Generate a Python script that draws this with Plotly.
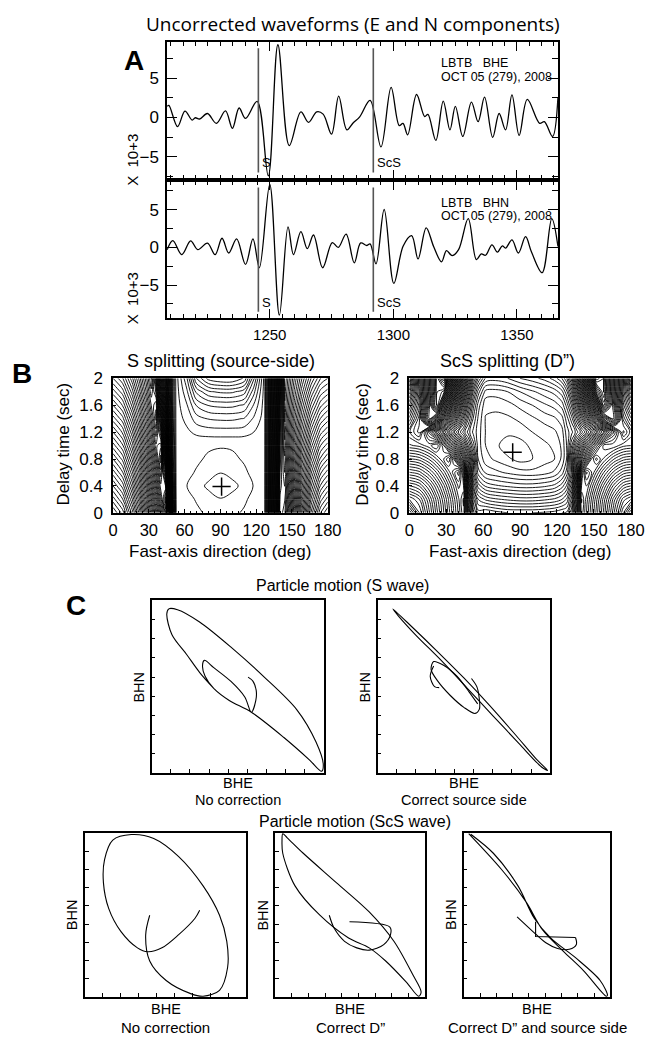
import plotly.graph_objects as go

W, H = 664, 1047
OFF = 8  # the page body margin shifts the figure by 8 px; targets are given in window pixels

# ---------------- Panel A data: waveforms (time s, amplitude x10^3) ----------------
E_time = [1208.5, 1209.2, 1212.7, 1215.7, 1218.6, 1219.9, 1221.6, 1224.8, 1228.4, 1232.1,
          1234.9, 1237.6, 1240.2, 1244.9, 1249.4, 1253.3, 1257.9, 1262.6, 1265.7, 1269.0,
          1271.6, 1275.0, 1277.9, 1281.2, 1283.8, 1286.4, 1290.6, 1295.0, 1299.1, 1302.4,
          1303.9, 1305.8, 1309.4, 1312.7, 1314.0, 1317.2, 1320.2, 1322.9, 1325.1, 1328.1,
          1331.6, 1334.3, 1336.9, 1340.2, 1342.8, 1345.4, 1348.0, 1350.9, 1354.2, 1359.2,
          1361.1, 1364.4, 1366.6]
E_amp = [1.42, 1.54, -1.17, 0.8, -0.33, -0.04, -0.2, 0.5, -0.75, 0.83,
         -1.38, 1.2, -0.12, 2.04, -7.42, 9.25, -3.58, 0.71, -0.62, 0.71,
         0.42, -2.12, 2.71, -1.58, -0.67, 0.08, 2.17, -3.75, 3.83, -1.04,
         -0.75, -2.21, 2.92, 0.1, 0.4, -2.92, 2.08, -1.58, 1.42, -2.42,
         1.96, -0.54, 2.58, -2.54, 0.5, -1.58, 2.88, -2.29, 2.29, -0.75,
         -0.54, -2.42, 2.58]

N_time = [1208.5, 1210.8, 1214.4, 1218.0, 1220.9, 1224.8, 1227.9, 1230.7, 1233.4, 1236.6,
          1240.2, 1243.2, 1245.8, 1250.0, 1253.9, 1257.4, 1259.6, 1262.6, 1265.2, 1267.7,
          1271.4, 1275.3, 1277.7, 1280.9, 1284.2, 1286.8, 1289.3, 1290.6, 1293.0, 1296.3,
          1300.2, 1304.0, 1307.4, 1310.0, 1313.3, 1316.3, 1319.5, 1321.5, 1323.8, 1326.4,
          1330.3, 1333.6, 1335.6, 1337.3, 1339.9, 1342.1, 1344.1, 1345.4, 1348.0, 1350.6,
          1353.5, 1355.9, 1360.2, 1364.1, 1366.6]
N_amp = [-0.3, 0.91, -0.96, 0.87, -0.3, 0.57, -0.96, 1.22, -0.74, 1.13,
         -2.26, 1.13, -2.7, 8.39, -9.0, 2.74, -0.96, 2.09, -0.17, 1.65,
         -2.7, 0.65, 0.0, 1.78, -2.04, 0.6, 0.26, 0.48, -2.17, 5.04,
         -4.78, 0.2, 1.57, -1.52, 2.61, 0.13, -1.91, -0.43, -1.09, -0.3,
         3.83, -1.61, -0.87, -1.04, 0.35, -0.61, 0.22, -0.09, 1.0, -0.74,
         1.43, -0.61, -3.35, 3.83, 0.13]

S_pick = 1245.4
ScS_pick = 1291.9

# ---------------- Panel B data: splitting misfit grids ----------------
PHI_S = [0, 8, 16, 22, 28, 32, 36, 40, 44, 47, 50, 53, 62, 70, 80, 90, 100, 110, 118, 127,
         130, 133, 136.5, 140, 144, 148, 152, 158, 166, 174, 180]
PHI_ScS = [0, 8, 16, 22, 28, 32, 36, 40, 44, 48, 52, 56, 62, 70, 80, 90, 100, 110, 118, 124,
           128, 132, 136, 140, 144, 148, 152, 158, 166, 174, 180]
DT = [0.0, 0.2, 0.4, 0.6, 0.8, 1.0, 1.2, 1.4, 1.6, 1.8, 2.0]

Z_S = [
    [5, 7.4, 12.4, 17.3, 23.1, 27.4, 32.0, 37.0, 42.3, 33.2, 12.7, 2.5, 2.32, 2.14, 1.87, 1.6, 1.83, 2.1, 2.34, 2.5, 9.0, 18.5, 29.5, 41.8, 40.2, 34.2, 28.5, 21.0, 12.8, 7.0, 5],
    [7.5, 9.9, 14.9, 19.7, 25.5, 29.8, 34.4, 39.4, 44.7, 27.8, 10.9, 2.5, 2.22, 1.94, 1.52, 1.1, 1.45, 1.87, 2.25, 2.5, 8.9, 18.2, 29.1, 41.2, 41.1, 35.4, 30.1, 22.8, 14.9, 9.4, 7.5],
    [10, 12.4, 17.3, 22.2, 27.9, 32.2, 36.8, 41.7, 41.0, 23.9, 9.6, 2.5, 2.0, 1.5, 0.75, 0.0, 0.63, 1.38, 2.05, 2.5, 8.8, 18.0, 28.7, 40.6, 42.1, 36.6, 31.5, 24.6, 17.1, 11.8, 10],
    [12.5, 14.9, 19.7, 24.4, 30.1, 34.3, 38.8, 43.6, 36.8, 21.5, 8.8, 2.5, 2.21, 1.92, 1.49, 1.05, 1.41, 1.85, 2.24, 2.5, 8.7, 17.8, 28.3, 40.0, 43.0, 37.8, 32.9, 26.3, 19.2, 14.2, 12.5],
    [15, 17.3, 22.1, 26.7, 32.3, 36.4, 40.8, 45.6, 33.1, 19.4, 8.1, 2.5, 2.32, 2.14, 1.87, 1.6, 1.83, 2.1, 2.34, 2.5, 8.6, 17.6, 27.9, 39.5, 43.8, 38.9, 34.3, 28.1, 21.4, 16.7, 15],
    [17.5, 19.8, 24.4, 29.0, 34.4, 38.5, 42.8, 43.6, 30.0, 17.8, 7.6, 2.5, 2.38, 2.2, 2.12, 2.1, 2.1, 2.14, 2.3, 2.5, 8.5, 17.3, 27.6, 39.0, 44.7, 40.0, 35.7, 29.9, 23.5, 19.0, 17.5],
    [20, 22.2, 26.7, 31.2, 36.5, 40.3, 44.6, 40.1, 27.7, 16.5, 7.1, 2.5, 2.8, 3.25, 3.45, 3.5, 3.5, 3.4, 3.0, 2.5, 8.4, 17.1, 27.3, 38.5, 45.4, 41.1, 37.0, 31.6, 25.6, 21.4, 20],
    [22.5, 24.6, 29.0, 33.3, 38.4, 42.2, 46.2, 37.1, 25.7, 15.4, 6.8, 2.5, 3.31, 4.53, 5.07, 5.2, 5.2, 4.93, 3.85, 2.5, 8.3, 16.9, 26.9, 38.0, 46.2, 42.1, 38.3, 33.3, 27.7, 23.9, 22.5],
    [25, 27.1, 31.3, 35.4, 40.3, 44.0, 45.9, 34.5, 23.8, 14.4, 6.5, 2.5, 3.94, 6.1, 7.06, 7.3, 7.3, 6.82, 4.9, 2.5, 8.2, 16.7, 26.6, 37.4, 46.8, 43.1, 39.6, 34.9, 29.8, 26.3, 25],
    [27.5, 29.5, 33.5, 37.5, 42.2, 45.7, 42.7, 32.1, 22.3, 13.4, 6.1, 2.5, 4.81, 8.28, 9.82, 10.2, 10.2, 9.43, 6.35, 2.5, 8.2, 16.5, 26.2, 36.9, 47.4, 44.0, 40.8, 36.6, 31.9, 28.6, 27.5],
    [30, 31.9, 35.7, 39.4, 43.8, 47.1, 40.1, 30.1, 21.0, 12.6, 5.9, 2.5, 5.95, 11.1, 13.4, 14.0, 14.0, 12.85, 8.25, 2.5, 8.1, 16.3, 25.9, 36.5, 48.0, 44.9, 42.0, 38.2, 34.0, 31.0, 30],
]

Z_ScS = [
    [5, 9.9, 14.7, 18.4, 22.0, 24.5, 26.9, 29.3, 31.8, 23.5, 17.5, 14.5, 15, 14.5, 14, 14, 14, 14.2, 14.5, 15, 15.2, 18.0, 23.8, 31.7, 29.0, 26.3, 23.7, 19.7, 14.3, 9.0, 5],
    [10.0, 11.9, 15.9, 19.3, 22.7, 25.1, 27.5, 29.8, 32.2, 22.6, 15.5, 12, 10.8, 10.2, 9.8, 9.5, 9.5, 9.8, 10.2, 11, 12.2, 15.6, 22.6, 32.1, 29.5, 26.9, 24.3, 20.5, 15.6, 11.4, 10.0],
    [14.9, 16.0, 18.9, 21.7, 24.7, 26.9, 29.1, 31.3, 30.1, 19.7, 12.2, 8.5, 6.8, 6.2, 5.8, 5.5, 5.5, 5.8, 6.3, 7.5, 9.2, 12.8, 20.1, 30.1, 31.0, 28.6, 26.2, 22.8, 18.7, 15.8, 15.0],
    [19.9, 20.6, 22.8, 25.0, 27.6, 29.5, 31.5, 33.5, 28.2, 17.4, 9.4, 5.5, 3.8, 3.3, 2.8, 2.4, 2.3, 2.6, 3.2, 4.5, 6.5, 10.3, 17.9, 28.3, 33.3, 31.1, 28.9, 26.0, 22.7, 20.5, 20.0],
    [24.8, 25.4, 27.1, 28.9, 31.1, 32.8, 29.0, 24.5, 19.5, 14.5, 9.0, 4, 2.4, 1.8, 1.2, 0.6, 1.0, 1.6, 2.0, 3.2, 5.1, 11.0, 16.5, 21.5, 26.0, 30.0, 32.4, 29.8, 27.1, 25.4, 25.0],
    [29.8, 30.3, 31.6, 33.0, 29.0, 25.5, 22.0, 18.0, 14.0, 10.0, 6.5, 3.5, 2.0, 1.3, 0.3, 0.5, 1.3, 1.8, 2.2, 3.2, 5.1, 9.0, 13.0, 17.0, 21.0, 24.5, 27.5, 31.5, 31.7, 30.3, 30.0],
    [31.8, 34.4, 27.8, 23.2, 18.8, 16.1, 13.4, 10.9, 8.6, 6.5, 4.7, 3.5, 1.95, 1.5, 1.3, 1.5, 2.0, 2.4, 2.8, 3.6, 5.5, 6.7, 8.5, 10.5, 12.8, 15.3, 17.9, 22.0, 28.0, 34.3, 31.6],
    [28.3, 33.6, 43.5, 38.1, 30.5, 25.6, 21.0, 16.7, 12.7, 9.0, 5.9, 3.8, 1.9, 1.8, 1.8, 2.2, 2.8, 3.4, 3.8, 4.6, 6.5, 8.6, 11.8, 15.5, 19.6, 24.0, 28.7, 36.2, 41.4, 31.6, 28.2],
    [24.9, 31.5, 42.3, 50.8, 40.5, 34.0, 27.7, 21.9, 16.4, 11.5, 7.4, 4.5, 2.3, 2.2, 2.6, 3.3, 4.0, 4.8, 5.4, 6.4, 8.4, 11.3, 15.6, 20.6, 26.1, 32.1, 38.4, 48.4, 40.1, 29.3, 24.8],
    [21.4, 30.1, 41.6, 50.2, 48.6, 41.0, 33.7, 26.8, 20.5, 14.8, 9.9, 6.5, 3.6, 3.5, 4.0, 5.0, 5.8, 6.6, 7.4, 8.6, 10.8, 14.3, 19.3, 25.2, 31.8, 38.8, 46.3, 51.2, 39.3, 27.6, 21.4],
    [18, 29.7, 41.3, 50.0, 55.2, 47.0, 39.2, 31.9, 25.0, 18.9, 13.6, 10, 6.8, 6.5, 7.0, 8.0, 8.6, 9.4, 10.5, 12, 14, 17.8, 23.3, 29.7, 36.9, 44.6, 52.7, 51.0, 39, 27, 18],
]

BEST_S = (91, 0.39)
BEST_ScS = (84, 0.90)

# ---------------- Panel C data: particle motion (normalised to each box) ----------------
PM_S_raw_u = [.559, .587, .606, .604, .578, .54, .46, .36, .306, .295, .31, .36, .45, .578, .765, .916, .985, .995,
              .953, .841, .653, .465, .278, .15, .10, .088, .118, .203, .28, .36]
PM_S_raw_v = [.555, .532, .48, .42, .352, .44, .53, .61, .652, .62, .56, .49, .42, .352, .207, .075, .01, .05,
              .179, .367, .555, .724, .874, .945, .95, .92, .80, .686, .58, .49]

PM_S_corr_long_u = [.088, .2, .35, .5, .65, .8, .92, .985, .95, .82, .67, .52, .37, .22, .12, .088]
PM_S_corr_long_v = [.95, .845, .70, .55, .39, .22, .08, .015, .035, .17, .33, .49, .65, .80, .91, .95]
PM_S_corr_loop_u = [.544, .575, .588, .59, .565, .50, .42, .35, .31, .325, .38, .46, .53, .58]
PM_S_corr_loop_v = [.547, .50, .44, .37, .345, .38, .45, .53, .60, .645, .625, .56, .47, .40]
PM_S_corr_hook_u = [.325, .305, .33, .357]
PM_S_corr_hook_v = [.62, .56, .50, .494]

PM_ScS_raw_u = [.402, .377, .402, .504, .656, .733, .835, .885, .880, .835, .733, .580, .427, .288, .173, .122,
                .115, .148, .224, .326, .389, .478, .580, .682, .712]
PM_ScS_raw_v = [.498, .378, .219, .100, .020, .004, .040, .179, .339, .498, .677, .857, .966, .990, .956, .837,
                .697, .538, .398, .299, .275, .299, .378, .478, .528]

PM_ScS_D_ell_u = [.05, .045, .05, .132, .298, .49, .628, .738, .876, .959, .975, .917, .793, .628, .408, .187, .08, .05]
PM_ScS_D_ell_v = [.995, .95, .876, .677, .498, .359, .299, .219, .09, .004, .03, .139, .339, .518, .697, .876, .97, .995]
PM_ScS_D_hook_u = [.496, .766, .77, .725, .628, .545, .463, .394, .361]
PM_ScS_D_hook_v = [.458, .426, .378, .319, .285, .299, .339, .418, .498]

PM_ScS_DS_lines_u = [.034, .258, .426, .538, .678, .818, .972, .98, .930, .762, .594, .482, .370, .202, .048]
PM_ScS_DS_lines_v = [.996, .777, .578, .408, .279, .159, .004, .010, .100, .239, .359, .478, .677, .876, .992]
PM_ScS_DS_step_u = [.49, .49, .762]
PM_ScS_DS_step_v = [.458, .368, .362]
PM_ScS_DS_hook_u = [.762, .768, .72, .64, .56, .47, .364]
PM_ScS_DS_hook_v = [.362, .32, .29, .295, .33, .40, .488]

# ---------------- helpers ----------------
SANS = "Liberation Sans, Arial, Helvetica, sans-serif"
HUM = "Open Sans, Noto Sans, sans-serif"


def px(x):
    return (x - OFF) / W


def py(y):
    return 1 - (y - OFF) / H


def xd(a, b):
    return [px(a), px(b)]


def yd(top, bottom):
    return [py(bottom), py(top)]


fig = go.Figure()

# waveforms
fig.add_trace(go.Scatter(x=E_time, y=E_amp, mode="lines", line=dict(color="black", width=1.3, shape="spline", smoothing=1.0),
                         xaxis="x", yaxis="y", hoverinfo="skip"))
fig.add_trace(go.Scatter(x=N_time, y=N_amp, mode="lines", line=dict(color="black", width=1.3, shape="spline", smoothing=1.0),
                         xaxis="x2", yaxis="y2", hoverinfo="skip"))
for xa, ya, lo, hi in [("x", "y", -7.0, 8.8), ("x2", "y2", -8.55, 7.95)]:
    for t in (S_pick, ScS_pick):
        fig.add_trace(go.Scatter(x=[t, t], y=[lo, hi], mode="lines", line=dict(color="#555", width=1.6),
                                 xaxis=xa, yaxis=ya, hoverinfo="skip"))

# contours
for P, Z, xa, ya, best in [(PHI_S, Z_S, "x3", "y3", BEST_S), (PHI_ScS, Z_ScS, "x4", "y4", BEST_ScS)]:
    fig.add_trace(go.Contour(x=P, y=DT, z=Z, xaxis=xa, yaxis=ya, showscale=False,
                             contours=dict(start=1, end=60, size=1, coloring="lines"),
                             colorscale=[[0, "black"], [1, "black"]],
                             line=dict(width=0.9, smoothing=1.0), hoverinfo="skip"))
    fig.add_trace(go.Scatter(x=[best[0]], y=[best[1]], mode="markers", xaxis=xa, yaxis=ya,
                             marker=dict(symbol="cross-thin", size=13, line=dict(width=1.5, color="black")),
                             hoverinfo="skip"))

# particle motion
pm_curves = [
    ("x5", "y5", PM_S_raw_u, PM_S_raw_v, "spline"),
    ("x6", "y6", PM_S_corr_long_u, PM_S_corr_long_v, "spline"),
    ("x6", "y6", PM_S_corr_loop_u, PM_S_corr_loop_v, "spline"),
    ("x6", "y6", PM_S_corr_hook_u, PM_S_corr_hook_v, "spline"),
    ("x7", "y7", PM_ScS_raw_u, PM_ScS_raw_v, "spline"),
    ("x8", "y8", PM_ScS_D_ell_u, PM_ScS_D_ell_v, "spline"),
    ("x8", "y8", PM_ScS_D_hook_u, PM_ScS_D_hook_v, "spline"),
    ("x9", "y9", PM_ScS_DS_lines_u, PM_ScS_DS_lines_v, "spline"),
    ("x9", "y9", PM_ScS_DS_step_u, PM_ScS_DS_step_v, "linear"),
    ("x9", "y9", PM_ScS_DS_hook_u, PM_ScS_DS_hook_v, "spline"),
]
for xa, ya, u, v, shp in pm_curves:
    ln = dict(color="black", width=1.1, shape=shp)
    if shp == "spline":
        ln["smoothing"] = 0.9
    fig.add_trace(go.Scatter(x=u, y=v, mode="lines", line=ln, xaxis=xa, yaxis=ya, hoverinfo="skip"))

# ---------------- axes ----------------
box = dict(showline=True, linecolor="black", linewidth=1.5, mirror=True, showgrid=False, zeroline=False)
layout = dict(width=W, height=H, margin=dict(l=0, r=0, t=0, b=0), paper_bgcolor="white", plot_bgcolor="white",
              showlegend=False)

wave_x = dict(box, range=[1208.5, 1366.6], tick0=1250, dtick=50, ticks="inside", ticklen=10, tickcolor="black",
              mirror="ticks", minor=dict(dtick=5, ticklen=5, ticks="inside", tickcolor="black"))
layout["xaxis"] = dict(wave_x, domain=xd(166.7, 569), anchor="y", showticklabels=False)
layout["xaxis2"] = dict(wave_x, domain=xd(166.7, 569), anchor="y2", showticklabels=True,
                        tickfont=dict(family=SANS, size=15, color="black"), ticklabelstandoff=2)
wave_y = dict(box, tick0=0, dtick=5, ticks="inside", ticklen=10, tickcolor="black", mirror="ticks",
              minor=dict(dtick=2.5, ticklen=6, ticks="inside", tickcolor="black"),
              tickfont=dict(family=SANS, size=17, color="black"), ticklabelstandoff=3)
layout["yaxis"] = dict(wave_y, domain=yd(33, 174), anchor="x", range=[-7.96, 9.66])
layout["yaxis2"] = dict(wave_y, domain=yd(174, 315), anchor="x2", range=[-9.43, 8.96])

for i, (a, b) in zip((3, 4), ((111, 332), (416, 644))):
    layout[f"xaxis{i}"] = dict(box, domain=xd(a, b), anchor=f"y{i}", range=[0, 180], tickvals=[0, 30, 60, 90, 120, 150, 180],
                               ticks="inside", ticklen=4, tickcolor="black",
                               minor=dict(dtick=5, ticklen=2, ticks="inside", tickcolor="black"),
                               tickfont=dict(family=SANS, size=16.5, color="black"), ticklabelstandoff=2)
    layout[f"yaxis{i}"] = dict(box, domain=yd(376, 513), anchor=f"x{i}", range=[0, 2],
                               tickvals=[0, 0.4, 0.8, 1.2, 1.6, 2.0], ticktext=["0", "0.4", "0.8", "1.2", "1.6", "2"],
                               ticks="inside", ticklen=3, tickcolor="black",
                               tickfont=dict(family=SANS, size=17, color="black"), ticklabelstandoff=5)

pm_boxes = {5: ((150.7, 328.3), (602, 778)), 6: ((383.3, 561), (602, 778)),
            7: ((82, 248), (839, 1006)), 8: ((278, 432), (839, 1006)), 9: ((472, 623), (839, 1006))}
for i, ((a, b), (t, bt)) in pm_boxes.items():
    tv = [k / 9 for k in range(1, 9)]
    layout[f"xaxis{i}"] = dict(box, domain=xd(a, b), anchor=f"y{i}", range=[0, 1], tickvals=tv, ticks="inside",
                               ticklen=4, tickcolor="black", showticklabels=False)
    layout[f"yaxis{i}"] = dict(box, domain=yd(t, bt), anchor=f"x{i}", range=[0, 1], tickvals=tv, ticks="inside",
                               ticklen=4, tickcolor="black", showticklabels=False)

# ---------------- annotations ----------------
ann = []


def txt(x, y, s, size, family=SANS, angle=0, xanchor="center", bold=False):
    ann.append(dict(x=px(x), y=py(y), xref="paper", yref="paper", text=(f"<b>{s}</b>" if bold else s),
                    showarrow=False, xanchor=xanchor, yanchor="middle", textangle=angle,
                    font=dict(family=family, size=size, color="black")))


txt(358, 15, "Uncorrected waveforms (E and N components)", 19, HUM)
txt(133, 52, "A", 28, SANS, bold=True)
txt(17, 371, "B", 28, SANS, bold=True)
txt(73, 607, "C", 28, SANS, bold=True)

# waveform labels (data coords)
for xa, ya, ylab in [("x", "y", -5.75), ("x2", "y2", -7.25)]:
    ann.append(dict(x=S_pick + 0.5, y=ylab, xref=xa, yref=ya, text="S", showarrow=False, xanchor="left",
                    font=dict(family=SANS, size=13, color="black")))
    ann.append(dict(x=ScS_pick + 0.5, y=ylab, xref=xa, yref=ya, text="ScS", showarrow=False, xanchor="left",
                    font=dict(family=SANS, size=13, color="black")))
txt(447, 55, "LBTB&nbsp;&nbsp;&nbsp;BHE", 12.5, SANS, xanchor="left")
txt(447, 69, "OCT 05 (279), 2008", 12.5, SANS, xanchor="left")
txt(447, 197, "LBTB&nbsp;&nbsp;&nbsp;BHN", 12.5, SANS, xanchor="left")
txt(447, 211, "OCT 05 (279), 2008", 12.5, SANS, xanchor="left")
txt(131, 153, "X&nbsp;&nbsp;10+3", 15, SANS, angle=-90)
txt(131, 294, "X&nbsp;&nbsp;10+3", 15, SANS, angle=-90)

# panel B labels
txt(222, 358, "S splitting (source-side)", 18)
txt(517, 358, "ScS splitting (D\u201d)", 18)
txt(60, 443, "Delay time (sec)", 17, angle=-90)
txt(367, 443, "Delay time (sec)", 17, angle=-90)
txt(221, 552, "Fast-axis direction (deg)", 17)
txt(530, 552, "Fast-axis direction (deg)", 17)

# panel C labels
txt(347, 587, "Particle motion (S wave)", 16)
txt(360, 827, "Particle motion (ScS wave)", 16)
for k, ((a, b), (t, bt)) in pm_boxes.items():
    txt(a - 13, (t + bt) / 2, "BHN", 14.5, angle=-90)
    txt((a + b) / 2, bt + (10 if k in (5, 6) else 12), "BHE", 14.5)
txt(239.5, 805, "No correction", 14.5)
txt(472, 805, "Correct source side", 14.5)
txt(165, 1037, "No correction", 15)
txt(355, 1037, "Correct D\u201d", 15)
txt(547.5, 1037, "Correct D\u201d and source side", 15)

layout["annotations"] = ann
fig.update_layout(**layout)
fig.write_html("out.html")
